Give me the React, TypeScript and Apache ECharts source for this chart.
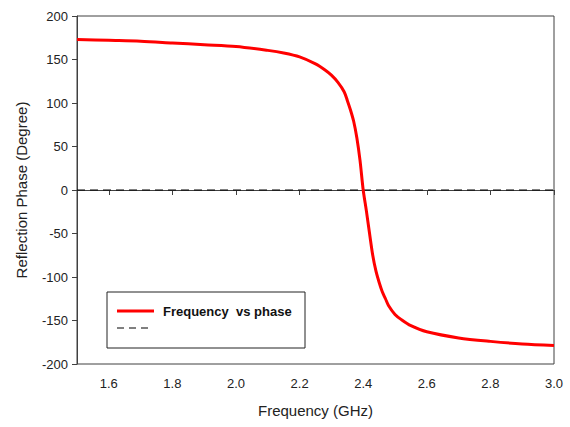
import React, { useEffect, useRef } from "react";
import * as echarts from "echarts";

const frequency = [1.5, 1.6, 1.7, 1.8, 1.9, 2.0, 2.1, 2.15, 2.2, 2.25, 2.28, 2.3, 2.32, 2.34, 2.35, 2.36, 2.37, 2.38, 2.39, 2.4, 2.41, 2.42, 2.43, 2.44, 2.45, 2.46, 2.47, 2.48, 2.5, 2.52, 2.55, 2.6, 2.7, 2.8, 2.9, 3.0];
const phase = [173, 172, 171, 169, 167, 165, 160.5, 157.5, 153, 145, 138, 132, 124, 113, 103, 92, 79, 60, 34, 0, -24, -50, -75, -93, -106, -117, -125, -133, -143, -149, -156, -163, -170, -174, -177, -178.6];
const zeroLine = [[1.5, 0], [3.0, 0]];
const xTicks = [1.6, 1.8, 2.0, 2.2, 2.4, 2.6, 2.8, 3.0];
const seriesNames = ["Frequency  vs phase", ""];

export default function App() {
  const ref = useRef<HTMLDivElement>(null);
  useEffect(() => {
    document.body.style.margin = "0";
    const chart = echarts.init(ref.current!, null, { renderer: "svg" });
    const font = "'Liberation Sans', Arial, sans-serif";
    chart.setOption({
      animation: false,
      backgroundColor: "#ffffff",
      textStyle: { fontFamily: font },
      grid: {
        left: 77, right: 16, top: 16, bottom: 63,
        show: true, borderColor: "#404040", borderWidth: 1, backgroundColor: "transparent",
      },
      graphic: [
        {
          type: "group", z: 100,
          children: [
            { type: "rect", shape: { x: 107, y: 292, width: 198, height: 56 }, style: { fill: "#fff", stroke: "#222", lineWidth: 1 } },
            { type: "line", shape: { x1: 117, y1: 311, x2: 154, y2: 311 }, style: { stroke: "#ff0000", lineWidth: 3 } },
            { type: "text", x: 163, y: 311, style: { text: seriesNames[0], fontFamily: font, fontSize: 13, fontWeight: "bold", fill: "#111", verticalAlign: "middle", align: "left" } },
            { type: "line", shape: { x1: 117, y1: 328, x2: 152, y2: 328 }, style: { stroke: "#000", lineWidth: 1, lineDash: [7, 5] } },
          ],
        },
      ],
      xAxis: {
        type: "value", min: 1.5, max: 3.0,
        name: "Frequency (GHz)", nameLocation: "middle", nameGap: 39,
        nameTextStyle: { fontSize: 15, color: "#222", fontFamily: font },
        axisLine: { show: true, lineStyle: { color: "#404040" } },
        axisTick: { show: true, length: 5, inside: false, customValues: xTicks, lineStyle: { color: "#404040" } },
        axisLabel: { customValues: xTicks, margin: 13, fontSize: 13, color: "#222", formatter: (v: number) => v.toFixed(1) },
        splitLine: { show: false },
      },
      yAxis: {
        type: "value", min: -200, max: 200, interval: 50,
        name: "Reflection Phase (Degree)", nameLocation: "middle", nameGap: 48,
        nameTextStyle: { fontSize: 15, color: "#222", fontFamily: font },
        axisLine: { show: true, lineStyle: { color: "#404040" } },
        axisTick: { show: true, length: 5, lineStyle: { color: "#404040" } },
        axisLabel: { margin: 9, fontSize: 13, color: "#222" },
        splitLine: { show: false },
      },
      series: [
        {
          name: seriesNames[0], type: "line", showSymbol: false, symbol: "none",
          smooth: 0.3,
          data: frequency.map((f, i) => [f, phase[i]]),
          lineStyle: { color: "#ff0000", width: 3 },
          itemStyle: { color: "#ff0000" },
          z: 3,
        },
        {
          name: "zero", type: "line", showSymbol: false, symbol: "none",
          data: zeroLine,
          lineStyle: { color: "#000", width: 1, type: [8, 5] },
          itemStyle: { color: "#000" },
          z: 2,
        },
      ],
    });
    return () => chart.dispose();
  }, []);
  return <div ref={ref} style={{ width: 570, height: 427 }} />;
}
